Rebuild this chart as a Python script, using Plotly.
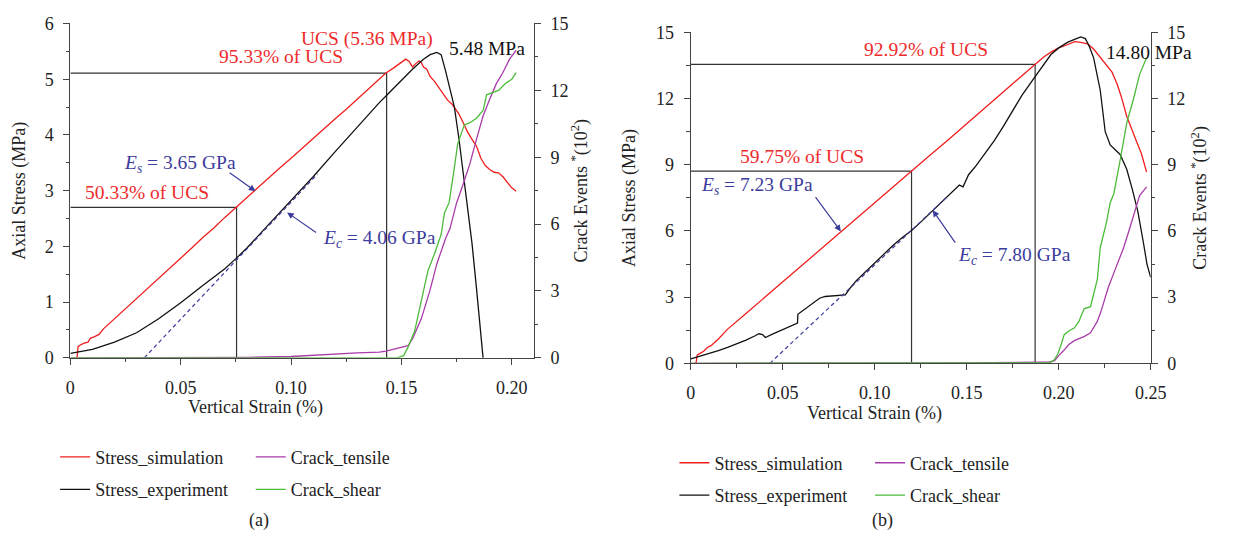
import plotly.graph_objects as go

FONT = "Liberation Serif"
RED = "#f01e1e"
RED_TXT = "#ee2b2b"
BLACK = "#111111"
NAVY = "#3c3c9c"
PURPLE = "#a83ca8"
GREEN = "#4cbb3a"
AXC = "#444444"

# ---------------- panel (a) data ----------------
a_sim_x = [0.0030, 0.0035, 0.0045, 0.0060, 0.0080, 0.0090, 0.0110, 0.0130, 0.0150, 0.020, 0.025,
           0.030, 0.035, 0.040, 0.045, 0.050, 0.055, 0.060, 0.065, 0.070, 0.075, 0.080, 0.085,
           0.090, 0.095, 0.100, 0.105, 0.110, 0.115, 0.120, 0.125, 0.130, 0.135, 0.140, 0.143,
           0.146, 0.149, 0.151, 0.152, 0.1535, 0.155, 0.1565, 0.158, 0.159, 0.160, 0.1615, 0.163,
           0.165, 0.167, 0.169, 0.171, 0.173, 0.174, 0.176, 0.178, 0.180, 0.182, 0.184, 0.186,
           0.188, 0.190, 0.192, 0.194, 0.196, 0.198, 0.200, 0.202]
a_sim_y = [0.00, 0.20, 0.23, 0.26, 0.28, 0.35, 0.38, 0.42, 0.52, 0.70, 0.88,
           1.06, 1.24, 1.43, 1.61, 1.79, 1.97, 2.16, 2.33, 2.52, 2.70, 2.88, 3.05,
           3.23, 3.41, 3.58, 3.76, 3.93, 4.11, 4.29, 4.46, 4.64, 4.82, 4.99, 5.11,
           5.19, 5.28, 5.33, 5.36, 5.32, 5.22, 5.28, 5.33, 5.30, 5.22, 5.18, 5.05,
           4.96, 4.85, 4.72, 4.62, 4.55, 4.50, 4.38, 4.22, 4.05, 3.92, 3.80, 3.58,
           3.45, 3.38, 3.33, 3.32, 3.25, 3.15, 3.05, 2.99]

a_exp_x = [0.0, 0.01, 0.02, 0.03, 0.04, 0.05, 0.06, 0.07, 0.075, 0.08, 0.09, 0.10, 0.11, 0.12,
           0.13, 0.14, 0.143, 0.15, 0.155, 0.16, 0.163, 0.166, 0.168, 0.170, 0.172, 0.174,
           0.176, 0.178, 0.180, 0.182, 0.184, 0.186, 0.187]
a_exp_y = [0.08, 0.15, 0.28, 0.45, 0.70, 0.99, 1.30, 1.60, 1.78, 1.97, 2.40, 2.83, 3.25, 3.70,
           4.15, 4.58, 4.70, 4.98, 5.18, 5.36, 5.44, 5.48, 5.44, 5.15, 4.85, 4.50,
           3.95, 3.30, 2.70, 2.05, 1.25, 0.45, 0.0]

a_ten_x = [0.0, 0.05, 0.08, 0.10, 0.11, 0.12, 0.13, 0.14, 0.143, 0.148, 0.153, 0.155, 0.157,
           0.159, 0.161, 0.163, 0.166, 0.168, 0.170, 0.172, 0.175, 0.178, 0.181, 0.184, 0.187,
           0.190, 0.193, 0.196, 0.199, 0.202]
a_ten_y = [0.0, 0.0, 0.02, 0.06, 0.12, 0.18, 0.22, 0.26, 0.30, 0.42, 0.55, 0.85, 1.30,
           1.75, 2.40, 3.05, 4.20, 4.80, 5.35, 5.80, 6.95, 7.80, 8.70, 9.80, 10.85,
           11.60, 12.30, 12.80, 13.40, 13.80]

a_sh_x = [0.0, 0.10, 0.148, 0.151, 0.153, 0.156, 0.158, 0.160, 0.162, 0.165, 0.168, 0.1695,
          0.1716, 0.1735, 0.1755, 0.1785, 0.181, 0.184, 0.187, 0.1886, 0.191, 0.194, 0.197,
          0.200, 0.202]
a_sh_y = [0.0, 0.0, 0.0, 0.10, 0.48, 1.20, 2.10, 3.07, 3.90, 4.67, 5.53, 6.50,
          6.96, 8.20, 9.60, 10.45, 10.55, 10.75, 11.10, 11.80, 11.90, 12.00, 12.30,
          12.50, 12.80]

a_ucs = 5.36
a_peak_exp = 5.48
a_lvl_y = [2.70, 5.11]          # 50.33 % and 95.33 % of UCS
a_lvl_x = [0.0753, 0.1433]
a_tan_x = [0.0335, 0.112]       # tangent line (E_c)
a_tan_y = [0.0, 3.30]

# ---------------- panel (b) data ----------------
b_sim_x = [0.0028, 0.0035, 0.005, 0.007, 0.009, 0.011, 0.015, 0.02, 0.03, 0.04, 0.05, 0.06,
           0.07, 0.08, 0.09, 0.10, 0.11, 0.12, 0.13, 0.14, 0.15, 0.16, 0.17, 0.18, 0.187,
           0.192, 0.196, 0.200, 0.204, 0.2087, 0.212, 0.2157, 0.219, 0.222, 0.226, 0.229,
           0.2317, 0.234, 0.237, 0.240, 0.2424, 0.245, 0.2478]
b_sim_y = [0.0, 0.38, 0.45, 0.55, 0.72, 0.80, 1.10, 1.55, 2.26, 2.98, 3.69, 4.41,
           5.12, 5.84, 6.55, 7.27, 7.99, 8.71, 9.43, 10.14, 10.86, 11.57, 12.29, 13.00, 13.52,
           13.90, 14.12, 14.30, 14.42, 14.58, 14.55, 14.48, 14.25, 13.95, 13.55, 13.20,
           12.67, 12.10, 11.20, 10.60, 10.05, 9.50, 8.67]

b_exp_x = [0.0, 0.005, 0.01, 0.015, 0.02, 0.025, 0.03, 0.035, 0.037, 0.039, 0.0405, 0.045,
           0.05, 0.055, 0.058, 0.0582, 0.062, 0.066, 0.07, 0.073, 0.077, 0.081, 0.084, 0.087,
           0.09, 0.095, 0.10, 0.105, 0.11, 0.115, 0.12, 0.125, 0.13, 0.135, 0.14, 0.144,
           0.146, 0.148, 0.151, 0.155, 0.16, 0.165, 0.17, 0.175, 0.18, 0.187, 0.192, 0.1958,
           0.200, 0.205, 0.209, 0.212, 0.2145, 0.2165, 0.219, 0.2226, 0.2253, 0.228, 0.2334,
           0.237, 0.240, 0.243, 0.246, 0.248, 0.250]
b_exp_y = [0.20, 0.32, 0.45, 0.58, 0.72, 0.88, 1.05, 1.25, 1.34, 1.30, 1.17, 1.35,
           1.52, 1.72, 1.82, 2.22, 2.45, 2.70, 2.95, 3.03, 3.05, 3.08, 3.10, 3.45,
           3.75, 4.15, 4.55, 4.95, 5.35, 5.70, 6.02, 6.40, 6.80, 7.20, 7.60, 7.90,
           8.08, 8.00, 8.55, 8.95, 9.50, 10.10, 10.75, 11.45, 12.15, 12.97, 13.55, 14.00,
           14.30, 14.56, 14.70, 14.80, 14.72, 14.40, 13.85, 12.38, 10.50, 9.90, 9.47,
           8.80, 7.90, 6.90, 5.50, 4.50, 3.90]

b_ten_x = [0.0, 0.10, 0.15, 0.19, 0.195, 0.1978, 0.200, 0.203, 0.2055, 0.2085, 0.211, 0.214,
           0.2173, 0.219, 0.221, 0.2228, 0.2245, 0.227, 0.230, 0.2325, 0.2353, 0.238, 0.2406,
           0.244, 0.2478]
b_ten_y = [0.0, 0.0, 0.02, 0.05, 0.06, 0.12, 0.35, 0.60, 0.85, 1.03, 1.12, 1.22,
           1.38, 1.60, 1.90, 2.30, 2.78, 3.45, 4.10, 4.65, 5.24, 5.95, 6.70,
           7.60, 8.00]

b_sh_x = [0.0, 0.19, 0.195, 0.1975, 0.1995, 0.2015, 0.203, 0.206, 0.2085, 0.211, 0.2138,
          0.2173, 0.219, 0.221, 0.2226, 0.226, 0.228, 0.230, 0.2334, 0.237, 0.2406, 0.244, 0.2478]
b_sh_y = [0.0, 0.0, 0.02, 0.15, 0.42, 0.90, 1.30, 1.50, 1.60, 1.90, 2.47,
          2.57, 3.10, 3.80, 5.24, 6.40, 7.28, 7.70, 9.20, 10.90, 11.96, 13.10, 13.85]

b_ucs = 14.58
b_peak_exp = 14.80
b_lvl_y = [8.71, 13.55]         # 59.75 % and 92.92 % of UCS
b_lvl_x = [0.120, 0.1872]
b_tan_x = [0.043, 0.140]
b_tan_y = [0.0, 7.60]

# ---------------- tick labels ----------------
a_xt = [0, 0.05, 0.10, 0.15, 0.20]
a_xt_txt = ["0", "0.05", "0.10", "0.15", "0.20"]
a_yt = [0, 1, 2, 3, 4, 5, 6]
b_xt = [0, 0.05, 0.10, 0.15, 0.20, 0.25]
b_xt_txt = ["0", "0.05", "0.10", "0.15", "0.20", "0.25"]
r_yt = [0, 3, 6, 9, 12, 15]

fig = go.Figure()


def add_line(x, y, xa, ya, color, name=None, legend=None, dash=None, width=1.3, clip=True):
    fig.add_trace(go.Scatter(
        x=x, y=y, xaxis=xa, yaxis=ya, mode="lines",
        line=dict(color=color, width=width, dash=dash),
        name=name if name else "", showlegend=name is not None,
        legend=legend if legend else "legend", legendgroup=name if name else None,
        hoverinfo="skip", cliponaxis=clip))


# reference level lines (a)
for lx, ly in zip(a_lvl_x, a_lvl_y):
    add_line([0, lx, lx], [ly, ly, 0], "x", "y", "#333333", width=1.2)
# reference level lines (b)
for lx, ly in zip(b_lvl_x, b_lvl_y):
    add_line([0, lx, lx], [ly, ly, 0], "x2", "y3", "#333333", width=1.2)

# panel (a) curves
add_line(a_sim_x, a_sim_y, "x", "y", RED, "Stress_simulation", "legend")
add_line(a_exp_x, a_exp_y, "x", "y", BLACK, "Stress_experiment", "legend")
add_line(a_tan_x, a_tan_y, "x", "y", NAVY, dash="4px,3px", width=1.2)
add_line(a_ten_x, a_ten_y, "x", "y2", PURPLE, "Crack_tensile", "legend2", clip=False)
add_line(a_sh_x, a_sh_y, "x", "y2", GREEN, "Crack_shear", "legend2", clip=False)

# panel (b) curves
add_line(b_sim_x, b_sim_y, "x2", "y3", RED, "Stress_simulation", "legend3")
add_line(b_exp_x, b_exp_y, "x2", "y3", BLACK, "Stress_experiment", "legend3")
add_line(b_tan_x, b_tan_y, "x2", "y3", NAVY, dash="4px,3px", width=1.2)
add_line(b_ten_x, b_ten_y, "x2", "y4", PURPLE, "Crack_tensile", "legend4", clip=False)
add_line(b_sh_x, b_sh_y, "x2", "y4", GREEN, "Crack_shear", "legend4", clip=False)

W, H = 1233, 548
TF = dict(family=FONT, size=18, color="#222222")


def xaxis(dom, tv, tt, rng):
    return dict(domain=dom, range=rng, tickvals=tv, ticktext=tt, showgrid=False, zeroline=False,
                showline=True, linecolor=AXC, linewidth=1.2, ticks="outside", ticklen=6,
                tickwidth=1.2, tickcolor=AXC, tickfont=TF, ticklabelstandoff=7,
                minor=dict(ticks="outside", ticklen=3.5, dtick=0.025, tick0=0, tickcolor=AXC,
                           tickwidth=1.1),
                fixedrange=True)


def yaxis(dom, tv, rng, minor_dt, title, side="left", anchor="x", overlay=None, standoff=10):
    d = dict(range=rng, tickvals=tv, ticktext=[str(v) for v in tv], showgrid=False,
             zeroline=False, showline=True, linecolor=AXC, linewidth=1.2, ticks="outside",
             ticklen=6, tickwidth=1.2, tickcolor=AXC, tickfont=TF, ticklabelstandoff=6,
             minor=dict(ticks="outside", ticklen=3.5, dtick=minor_dt, tick0=0, tickcolor=AXC,
                        tickwidth=1.1),
             title=dict(text=title, font=dict(family=FONT, size=18, color="#222222"),
                        standoff=standoff),
             side=side, anchor=anchor, fixedrange=True)
    if overlay:
        d["overlaying"] = overlay
    else:
        d["domain"] = dom
    return d


ya_dom = [(H - 361) / H, (H - 14) / H]
yb_dom = [(H - 366.7) / H, (H - 23.3) / H]

RT = "Crack Events <sup>*</sup>(10<sup>2</sup>)"

fig.update_layout(
    width=W, height=H,
    margin=dict(l=0, r=0, t=0, b=0),
    paper_bgcolor="white", plot_bgcolor="white",
    font=dict(family=FONT, size=18, color="#222222"),
    xaxis=xaxis([66.5 / W, 538 / W], a_xt, a_xt_txt, [0, 0.21]),
    yaxis=yaxis(ya_dom, a_yt, [0, 6], 0.5, "Axial Stress (MPa)", standoff=14),
    yaxis2=yaxis(None, r_yt, [0, 15], 1.5, RT, side="right", anchor="x", overlay="y",
                 standoff=6),
    xaxis2=xaxis([697.7 / W, 1165.5 / W], b_xt, b_xt_txt, [0, 0.25]),
    yaxis3=yaxis(yb_dom, r_yt, [0, 15], 1.5, "Axial Stress (MPa)", anchor="x2", standoff=15),
    yaxis4=yaxis(None, r_yt, [0, 15], 1.5, RT, side="right", anchor="x2", overlay="y3",
                 standoff=9),
)
fig.layout.xaxis2.anchor = "y3"
fig.layout.xaxis.anchor = "y"

LF = dict(family=FONT, size=18, color="#222222")
for key, xl, yl in [("legend", 51, 445), ("legend2", 250, 445),
                    ("legend3", 681, 451), ("legend4", 880, 451)]:
    fig.update_layout({key: dict(x=xl / W, y=(H - yl) / H, xanchor="left", yanchor="top",
                                 orientation="v", font=LF, bgcolor="rgba(0,0,0,0)",
                                 tracegroupgap=6, itemwidth=30, borderwidth=0)})

ann = []


def txt(x, y, s, color, xref="x", yref="y", size=19.5):
    ann.append(dict(x=x, y=y, xref=xref, yref=yref, text=s, showarrow=False,
                    font=dict(family=FONT, size=size, color=color),
                    xanchor="center", yanchor="middle"))


def arrow(x, y, ax, ay, xref, yref):
    ann.append(dict(x=x, y=y, ax=ax, ay=ay, xref=xref, yref=yref, axref=xref, ayref=yref,
                    text="", showarrow=True, arrowhead=2, arrowsize=1.1, arrowwidth=1.2,
                    arrowcolor=NAVY, standoff=0))


# panel (a) text
txt(0.1342, 5.72, f"UCS ({a_ucs:.2f} MPa)", RED_TXT)
txt(0.0955, 5.40, "95.33% of UCS", RED_TXT)
txt(0.1886, 5.55, f"{a_peak_exp:.2f} MPa", BLACK)
txt(0.0345, 2.96, "50.33% of UCS", RED_TXT)
txt(0.0496, 3.48, "<i>E</i><sub><i>s</i></sub> = 3.65 GPa", NAVY)
txt(0.1400, 2.13, "<i>E</i><sub><i>c</i></sub> = 4.06 GPa", NAVY)
arrow(0.0839, 2.99, 0.0715, 3.34, "x", "y")
arrow(0.0982, 2.61, 0.1120, 2.23, "x", "y")

# panel (b) text
txt(0.1845, 15.51, f"UCS ({b_ucs:.2f} MPa)", RED_TXT, "x2", "y3")
txt(0.1277, 14.24, "92.92% of UCS", RED_TXT, "x2", "y3")
txt(0.2489, 14.08, f"{b_peak_exp:.2f} MPa", BLACK, "x2", "y3")
txt(0.0602, 9.39, "59.75% of UCS", RED_TXT, "x2", "y3")
txt(0.0360, 8.03, "<i>E</i><sub><i>s</i></sub> = 7.23 GPa", NAVY, "x2", "y3")
txt(0.1760, 4.88, "<i>E</i><sub><i>c</i></sub> = 7.80 GPa", NAVY, "x2", "y3")
arrow(0.0816, 5.98, 0.0672, 7.60, "x2", "y3")
arrow(0.1315, 6.94, 0.1443, 5.40, "x2", "y3")

# x-axis titles and captions
txt(255 / W, (H - 413) / H, "Vertical Strain (%)", "#222222", "paper", "paper", 18)
txt(885 / W, (H - 419) / H, "Vertical Strain (%)", "#222222", "paper", "paper", 18)
txt(258 / W, (H - 530) / H, "(a)", "#222222", "paper", "paper", 18)
txt(893 / W, (H - 530) / H, "(b)", "#222222", "paper", "paper", 18)

fig.update_layout(annotations=ann)

fig.write_html("out.html")
